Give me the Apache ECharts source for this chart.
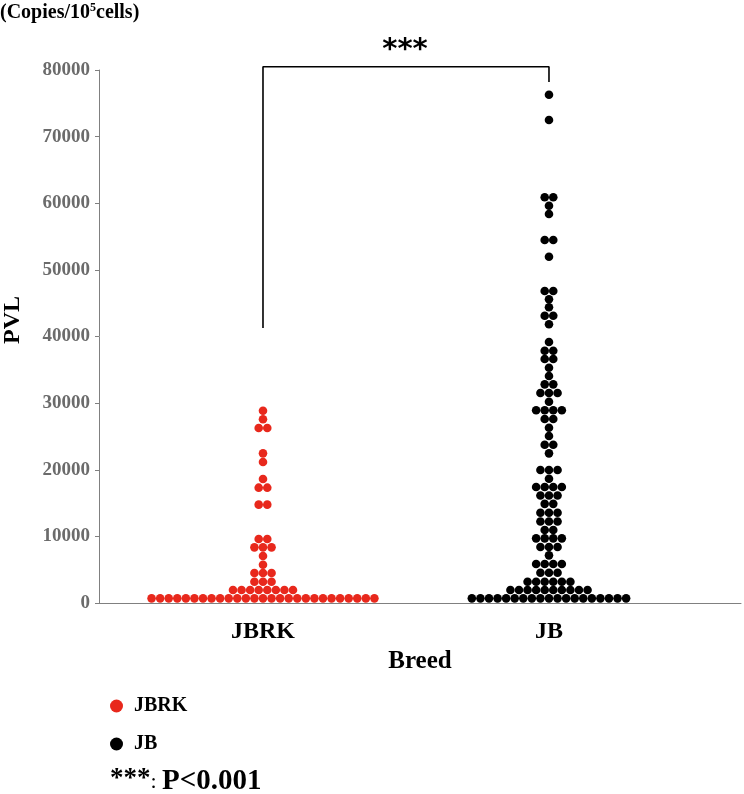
<!DOCTYPE html>
<html>
<head>
<meta charset="utf-8">
<script src="https://cdn.jsdelivr.net/npm/echarts@6/dist/echarts.min.js"></script>
<style>
html,body{margin:0;padding:0;background:#fff;}
#main{width:744px;height:794px;}
</style>
</head>
<body>
<div id="main"></div>
<script>
// groups on the x axis
var groupNames = ['JBRK', 'JB'];
var yTicks = [0, 10000, 20000, 30000, 40000, 50000, 60000, 70000, 80000];

// dot plot rows: PVL level of each row and number of dots in it
var jbrkLevels = [700, 1950, 3200, 4500, 5750, 7050, 8350, 9600, 14760, 17310, 18610, 21160, 22460, 26260, 27570, 28860];
var jbrkCounts = [27, 8, 3, 3, 1, 1, 3, 2, 2, 2, 1, 1, 1, 2, 1, 1];

var jbLevels = [700, 1950, 3200, 4550, 5850, 7150, 8400, 9700, 10960, 12230, 13550, 14880, 16130, 17410, 18660, 19960,
  22460, 23760, 25060, 26310, 27620, 28920, 30210, 31520, 32820, 34070, 35320, 36620, 37870, 39170,
  41830, 43120, 44380, 45580, 46830, 51980, 54480, 58380, 59630, 60890, 72490, 76290];
var jbCounts = [19, 10, 6, 3, 4, 1, 3, 4, 2, 3, 3, 2, 3, 4, 1, 3,
  1, 2, 1, 1, 2, 4, 1, 3, 2, 1, 1, 2, 2, 1,
  1, 2, 1, 1, 2, 1, 2, 1, 1, 2, 1, 1];

// significance bracket (PVL levels of the legs)
var bracketTop = 80490;
var bracketLeft = 41270;
var bracketRight = 78190;

var FONT = 'Liberation Serif';
var DOT = 8.57; // dot pitch in px

// spread each row symmetrically round the group centre
function swarm(groupX, levels, counts) {
  var out = [];
  for (var r = 0; r < levels.length; r++) {
    var n = counts[r];
    for (var i = 0; i < n; i++) {
      out.push({
        value: [groupX, levels[r]],
        symbolOffset: [(i - (n - 1) / 2) * DOT, 0]
      });
    }
  }
  return out;
}

var myChart = echarts.init(document.getElementById('main'));

var option = {
  backgroundColor: '#fff',
  animation: false,
  grid: {left: 99, right: 3, top: 70, bottom: 191},
  legend: {
    data: [{name: 'JBRK', icon: 'circle'}, {name: 'JB', icon: 'circle'}],
    orient: 'vertical',
    left: 105,
    top: 691,
    itemWidth: 13,
    itemHeight: 13,
    itemGap: 18,
    textStyle: {fontFamily: FONT, fontWeight: 'bold', fontSize: 20, color: '#000', padding: [0, 0, 0, 6]}
  },
  xAxis: {
    type: 'value',
    min: 0.4266,
    max: 2.6714,
    splitLine: {show: false},
    axisTick: {show: false},
    axisLine: {lineStyle: {color: '#808080', width: 1}},
    axisLabel: {
      customValues: [1, 2],
      margin: 17,
      fontFamily: FONT, fontWeight: 'bold', fontSize: 24, color: '#000',
      formatter: function (v) { return groupNames[Math.round(v) - 1] || ''; }
    },
    name: 'Breed',
    nameLocation: 'middle',
    nameGap: 43,
    nameTextStyle: {fontFamily: FONT, fontWeight: 'bold', fontSize: 25, color: '#000'}
  },
  yAxis: {
    type: 'value',
    min: yTicks[0],
    max: yTicks[yTicks.length - 1],
    interval: 10000,
    splitLine: {show: false},
    axisLine: {show: true, lineStyle: {color: '#808080', width: 1}},
    axisTick: {show: true, length: 4, lineStyle: {color: '#808080'}},
    axisLabel: {
      margin: 9,
      fontFamily: FONT, fontWeight: 'bold', fontSize: 19, color: '#6b6b6b',
      formatter: function (v) { return String(v); }
    }
  },
  graphic: [
    {
      type: 'text', left: 0, top: 2,
      style: {
        text: '{n|(Copies/10}{s|5}{n|cells)}',
        rich: {
          n: {fontFamily: FONT, fontWeight: 'bold', fontSize: 20, fill: '#000'},
          s: {fontFamily: FONT, fontWeight: 'bold', fontSize: 12, fill: '#000', padding: [0, 0, 9, 0]}
        }
      }
    },
    {
      type: 'text', x: 13, y: 320, rotation: Math.PI / 2,
      style: {text: 'PVL', fontFamily: FONT, fontWeight: 'bold', fontSize: 24, fill: '#000',
        align: 'center', verticalAlign: 'middle'}
    },
    {
      type: 'text', x: 405, y: 50,
      style: {text: '***', fontFamily: 'DejaVu Sans', fontWeight: 'bold', fontSize: 29, fill: '#000',
        align: 'center', verticalAlign: 'middle'}
    },
    {
      type: 'text', x: 110, y: 782,
      style: {
        text: '{a|***}{b|: }{c|P<0.001}',
        verticalAlign: 'middle',
        rich: {
          a: {fontFamily: FONT, fontWeight: 'bold', fontSize: 27, fill: '#000', padding: [0, 0, 6, 0]},
          b: {fontFamily: FONT, fontSize: 22, fill: '#000'},
          c: {fontFamily: FONT, fontWeight: 'bold', fontSize: 29, fill: '#000'}
        }
      }
    }
  ],
  series: [
    {
      name: 'JBRK',
      type: 'scatter',
      symbol: 'circle',
      symbolSize: 8.6,
      itemStyle: {color: '#e8281c', opacity: 1},
      data: swarm(1, jbrkLevels, jbrkCounts)
    },
    {
      name: 'JB',
      type: 'scatter',
      symbol: 'circle',
      symbolSize: 8.6,
      itemStyle: {color: '#000', opacity: 1},
      data: swarm(2, jbLevels, jbCounts)
    },
    {
      name: 'bracket',
      type: 'line',
      clip: false,
      symbol: 'none',
      silent: true,
      lineStyle: {color: '#000', width: 1.6},
      data: [[1, bracketLeft], [1, bracketTop], [2, bracketTop], [2, bracketRight]]
    }
  ]
};

myChart.setOption(option);
</script>
</body>
</html>
